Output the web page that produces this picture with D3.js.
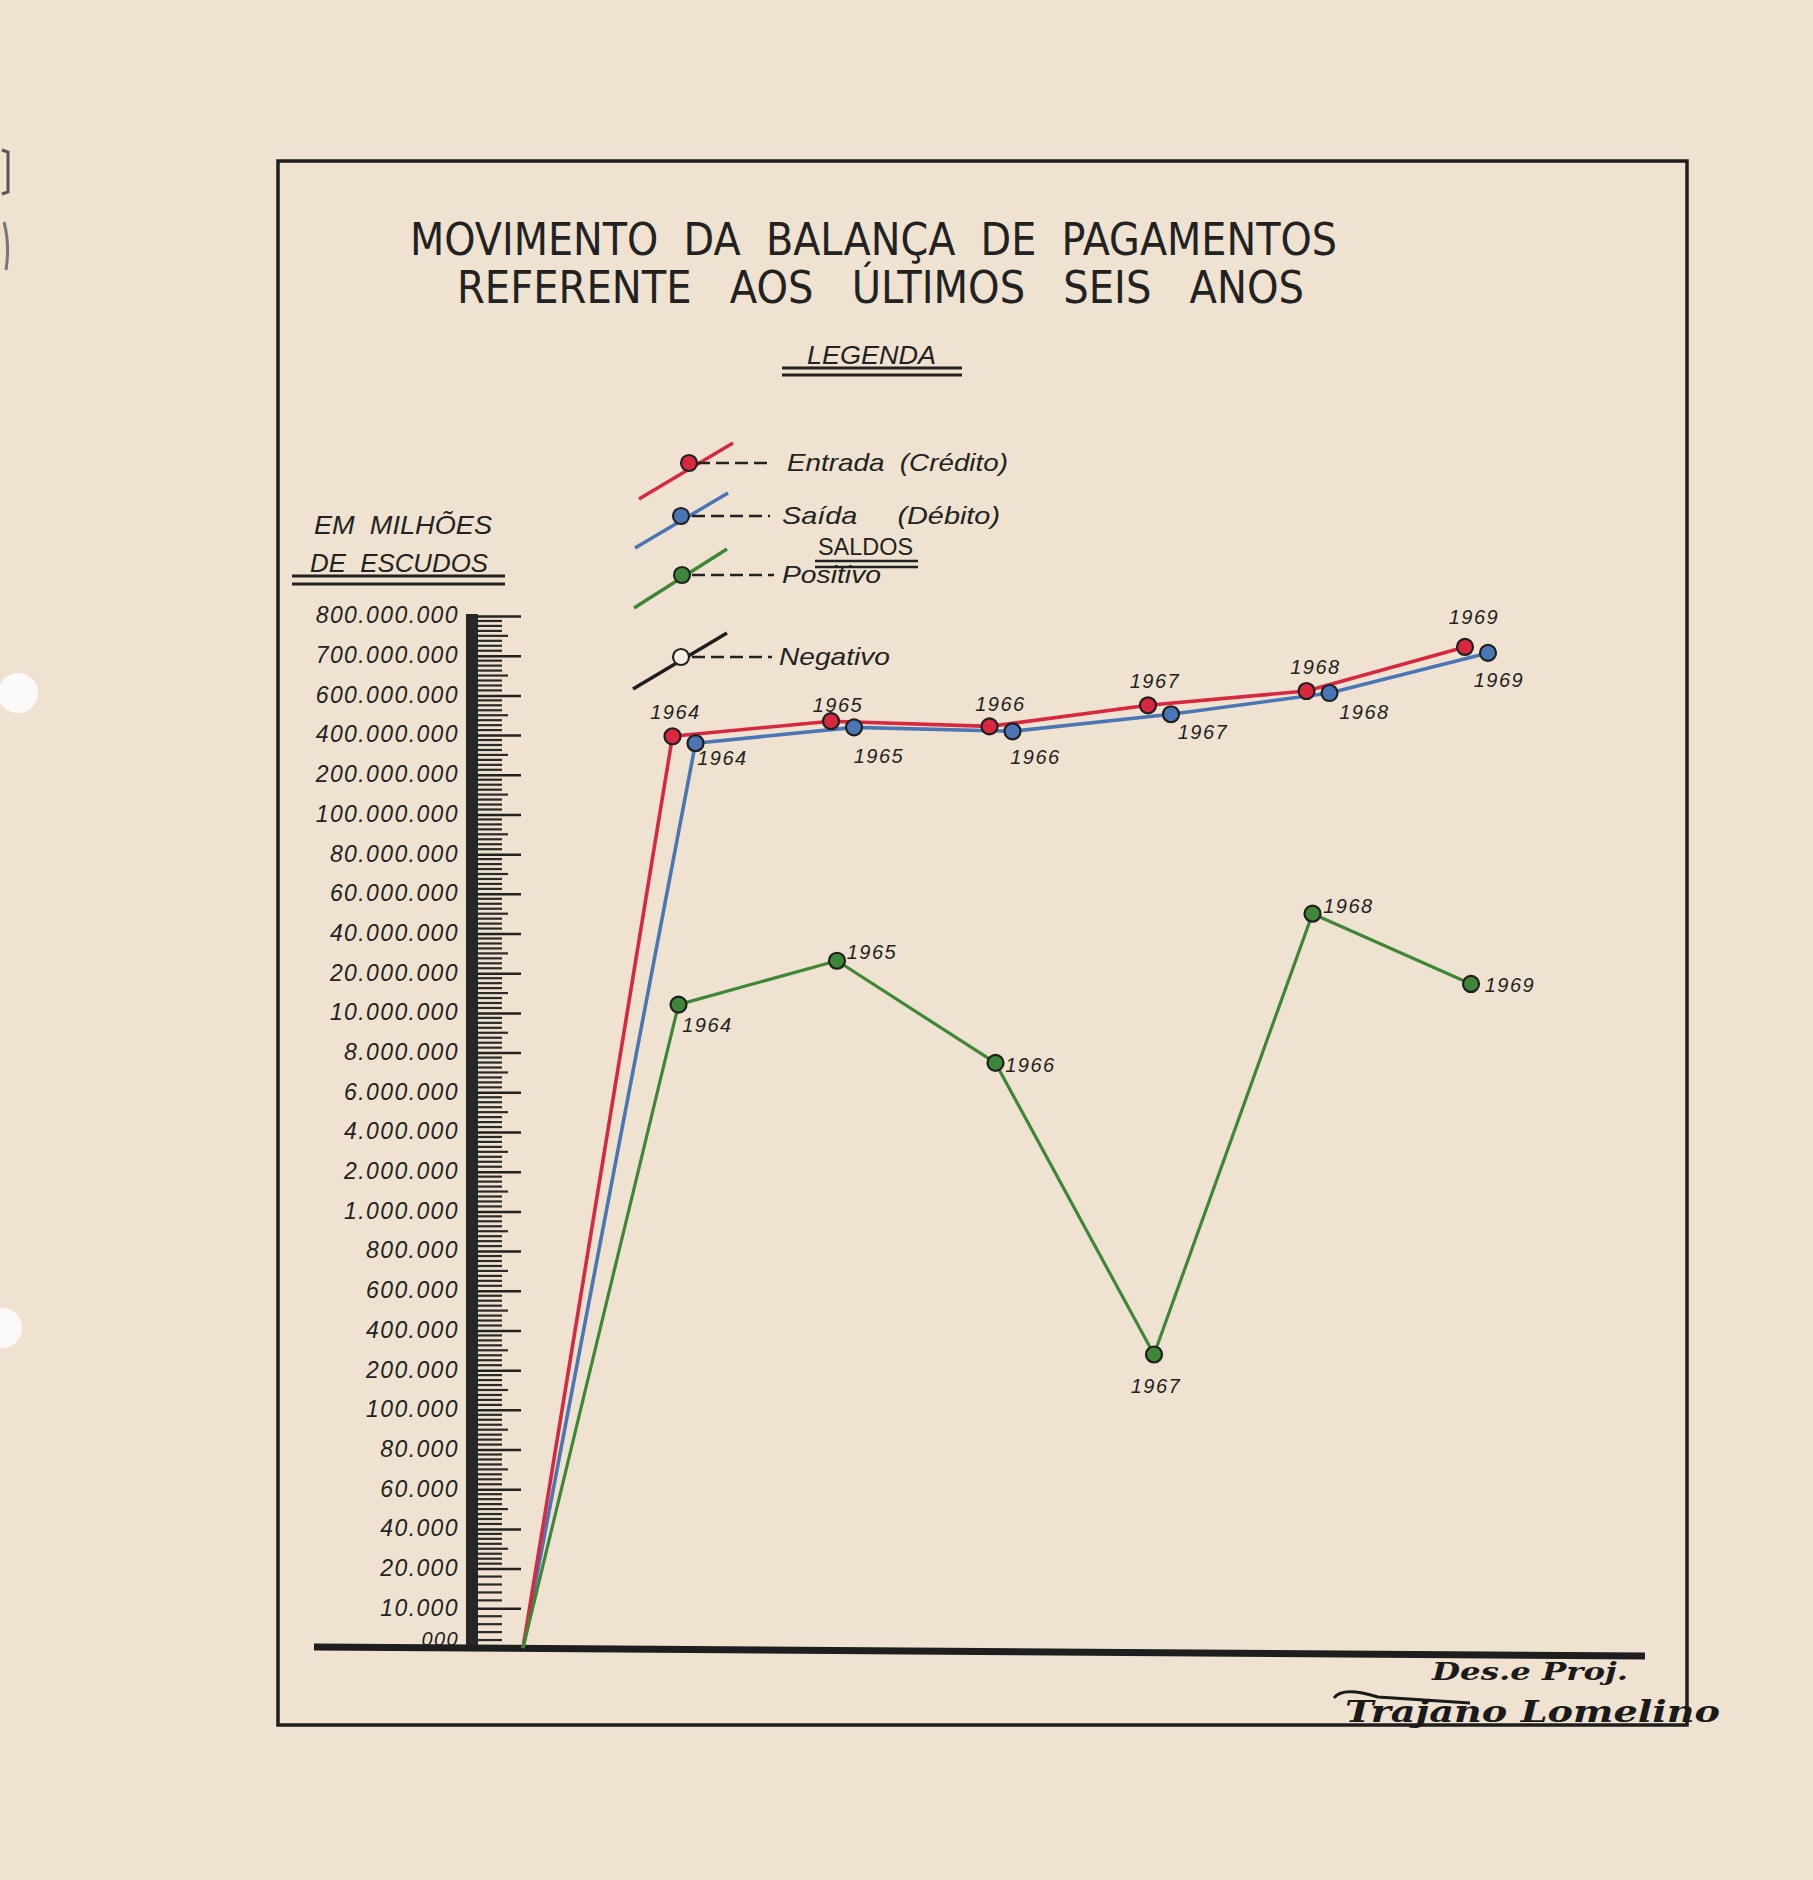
<!DOCTYPE html>
<html>
<head>
<meta charset="utf-8">
<script src="https://cdn.jsdelivr.net/npm/d3@7"></script>
<style>
  html, body { margin: 0; padding: 0; background: #efe2d0; }
  svg { display: block; }
</style>
</head>
<body>
<svg id="chart" width="1813" height="1880"></svg>
<script>
// ---------------- DATA ----------------
const tickLabels = ["800.000.000","700.000.000","600.000.000","400.000.000","200.000.000","100.000.000",
  "80.000.000","60.000.000","40.000.000","20.000.000","10.000.000","8.000.000","6.000.000",
  "4.000.000","2.000.000","1.000.000","800.000","600.000","400.000","200.000","100.000",
  "80.000","60.000","40.000","20.000","10.000","000"];
const tickValues = [800e6,700e6,600e6,400e6,200e6,100e6,80e6,60e6,40e6,20e6,10e6,8e6,6e6,
  4e6,2e6,1e6,800e3,600e3,400e3,200e3,100e3,80e3,60e3,40e3,20e3,10e3,0];
const years = [1964, 1965, 1966, 1967, 1968, 1969];
const entrada = [394e6, 470e6, 444e6, 550e6, 611e6, 722e6];      // Entrada (Crédito)
const saida   = [359e6, 439e6, 419e6, 505e6, 606e6, 707e6];      // Saída (Débito)
const saldoPositivo = [12.1e6, 26.3e6, 7.48e6, 0.279e6, 50e6, 17.3e6]; // Saldos positivos
const titleLines = ["MOVIMENTO  DA  BALANÇA  DE  PAGAMENTOS", "REFERENTE   AOS   ÚLTIMOS   SEIS   ANOS"];

// ---------------- LAYOUT ----------------
const svg = d3.select("#chart");
const INK = "#222";
const RED = "#d8283f", BLUE = "#4a76b6", GREEN = "#3f8738";
const italic = "'Liberation Sans', Arial, sans-serif";

// scales
const yPoint = d3.scalePoint().domain(tickLabels).range([616, 1648]);
const y = d3.scaleLinear()
  .domain(tickValues.slice().reverse())
  .range(tickLabels.map(t => yPoint(t)).reverse());
const x = d3.scaleLinear().domain([1963, 1969]).range([523, 1474]);

// punch holes and edge marks
svg.append("circle").attr("cx", 18).attr("cy", 693).attr("r", 20).attr("fill", "#fbfaf8");
svg.append("circle").attr("cx", 2).attr("cy", 1328).attr("r", 20).attr("fill", "#fbfaf8");
svg.append("path").attr("d", "M2,150 L8,152 L8,192 L2,194").attr("fill", "none").attr("stroke", "#555").attr("stroke-width", 3);
svg.append("path").attr("d", "M4,222 Q10,245 6,270").attr("fill", "none").attr("stroke", "#777").attr("stroke-width", 3);

// frame
svg.append("rect").attr("x", 278).attr("y", 161).attr("width", 1409).attr("height", 1564)
  .attr("fill", "none").attr("stroke", "#1e1e1e").attr("stroke-width", 3.5);

// title
const titleFont = "'Liberation Sans Narrow', 'DejaVu Sans Condensed', 'Liberation Sans', sans-serif";
svg.append("text").text(titleLines[0]).attr("x", 410).attr("y", 255)
  .attr("textLength", 927).attr("lengthAdjust", "spacingAndGlyphs")
  .attr("font-family", titleFont).attr("font-size", 44).attr("fill", INK).attr("font-weight", 300)
  .style("white-space", "pre");
svg.append("text").text(titleLines[1]).attr("x", 457).attr("y", 303)
  .attr("textLength", 847).attr("lengthAdjust", "spacingAndGlyphs")
  .attr("font-family", titleFont).attr("font-size", 44).attr("fill", INK).attr("font-weight", 300)
  .style("white-space", "pre");

// LEGENDA
svg.append("text").text("LEGENDA").attr("x", 807).attr("y", 364)
  .attr("textLength", 129).attr("lengthAdjust", "spacingAndGlyphs")
  .attr("font-family", italic).attr("font-style", "italic").attr("font-size", 25).attr("fill", INK);
[368, 375].forEach(yy => svg.append("line").attr("x1", 782).attr("x2", 962).attr("y1", yy).attr("y2", yy)
  .attr("stroke", INK).attr("stroke-width", 3));

// legend entries
const legend = [
  {label: "Entrada  (Crédito)", color: RED, fill: RED, l: [639,499,733,443], c: [689,463], d: [697,772], tx: 787, tl: 221},
  {label: "Saída     (Débito)", color: BLUE, fill: BLUE, l: [635,548,728,493], c: [681,516], d: [692,770], tx: 782, tl: 218},
  {label: "Positivo", color: GREEN, fill: GREEN, l: [634,608,727,549], c: [682,575], d: [692,774], tx: 782, tl: 99},
  {label: "Negativo", color: "#1e1e1e", fill: "#f6f0e6", l: [633,689,727,633], c: [681,657], d: [692,772], tx: 779, tl: 111}
];
legend.forEach(e => {
  svg.append("line").attr("x1", e.l[0]).attr("y1", e.l[1]).attr("x2", e.l[2]).attr("y2", e.l[3])
    .attr("stroke", e.color).attr("stroke-width", 3.5);
  svg.append("line").attr("x1", e.d[0]).attr("x2", e.d[1]).attr("y1", e.c[1]).attr("y2", e.c[1])
    .attr("stroke", INK).attr("stroke-width", 2.5).attr("stroke-dasharray", "13,6");
  svg.append("circle").attr("cx", e.c[0]).attr("cy", e.c[1]).attr("r", 8)
    .attr("fill", e.fill).attr("stroke", INK).attr("stroke-width", 2.2);
  svg.append("text").text(e.label).attr("x", e.tx).attr("y", e.c[1]).attr("dy", "0.35em")
    .attr("textLength", e.tl).attr("lengthAdjust", "spacingAndGlyphs")
    .attr("font-family", italic).attr("font-style", "italic").attr("font-size", 24).attr("fill", INK)
    .style("white-space", "pre");
});
svg.append("text").text("SALDOS").attr("x", 818).attr("y", 555)
  .attr("textLength", 95).attr("lengthAdjust", "spacingAndGlyphs")
  .attr("font-family", italic).attr("font-size", 24).attr("fill", INK);
[561, 567].forEach(yy => svg.append("line").attr("x1", 815).attr("x2", 918).attr("y1", yy).attr("y2", yy)
  .attr("stroke", INK).attr("stroke-width", 2.5));

// unit label
svg.append("text").text("EM  MILHÕES").attr("x", 314).attr("y", 534)
  .attr("textLength", 178).attr("lengthAdjust", "spacingAndGlyphs")
  .attr("font-family", italic).attr("font-style", "italic").attr("font-size", 26).attr("fill", INK)
  .style("white-space", "pre");
svg.append("text").text("DE  ESCUDOS").attr("x", 310).attr("y", 572)
  .attr("textLength", 178).attr("lengthAdjust", "spacingAndGlyphs")
  .attr("font-family", italic).attr("font-style", "italic").attr("font-size", 26).attr("fill", INK)
  .style("white-space", "pre");
[576, 584].forEach(yy => svg.append("line").attr("x1", 292).attr("x2", 505).attr("y1", yy).attr("y2", yy)
  .attr("stroke", INK).attr("stroke-width", 3));

// ---------------- AXIS ----------------
const barX = 466, barW = 12;
svg.append("rect").attr("x", barX).attr("y", y(800e6) - 2).attr("width", barW).attr("height", y(0) - y(800e6) + 2)
  .attr("fill", "#262626");

// minor comb ticks
const minor = [];
for (let i = 0; i < tickValues.length - 1; i++) {
  const v0 = tickValues[i], v1 = tickValues[i + 1];
  const n = i >= 24 ? 5 : 8;
  for (let k = 1; k < n; k++) minor.push({v: v0 + (v1 - v0) * k / n, mid: (n === 8 && k === 4)});
}
svg.append("g").selectAll("line").data(minor).join("line")
  .attr("x1", barX + barW).attr("x2", d => d.mid ? 508 : 502)
  .attr("y1", d => y(d.v)).attr("y2", d => y(d.v))
  .attr("stroke", "#2a2a2a").attr("stroke-width", 2.2);

// major ticks via d3 axis
const majorAxis = svg.append("g").attr("transform", `translate(${barX + barW},0)`)
  .call(d3.axisRight(y).tickValues(tickValues.slice(0, -1)).tickSize(43).tickFormat(""));
majorAxis.select(".domain").remove();
majorAxis.selectAll("line").attr("stroke", "#222").attr("stroke-width", 2.5);

// tick labels via d3 axis
const labelAxis = svg.append("g").attr("transform", "translate(459,0)")
  .call(d3.axisLeft(y).tickValues(tickValues).tickSize(0).tickPadding(0)
    .tickFormat((v, i) => tickLabels[i]));
labelAxis.select(".domain").remove();
labelAxis.selectAll("text")
  .attr("font-family", italic).attr("font-style", "italic").attr("font-size", 23)
  .attr("letter-spacing", 1.4).attr("fill", INK).attr("dy", "0.3em");
labelAxis.selectAll("text").filter((v) => v === 0)
  .attr("font-size", 20).attr("dy", "-0.15em");

// baseline
svg.append("line").attr("x1", 314).attr("y1", y(0) - 1).attr("x2", 1645).attr("y2", y(0) + 8)
  .attr("stroke", "#1e1e1e").attr("stroke-width", 7);

// ---------------- SERIES ----------------
const series = [
  {vals: saida, color: BLUE, dx: 14, w: 3.6,
   off: [[27,15],[25,29],[23,26],[32,18],[35,19],[11,27]]},
  {vals: entrada, color: RED, dx: -9, w: 3.6,
   off: [[3,-24],[7,-16],[11,-22],[7,-24],[9,-24],[9,-30]]},
  {vals: saldoPositivo, color: GREEN, dx: -3, w: 3.2,
   off: [[29,20],[35,-9],[35,2],[2,32],[36,-8],[39,1]]}
];
const line = d3.line().x(d => d[0]).y(d => d[1]);
const origin = [x(1963), y(0)];

series.forEach(s => {
  const pts = years.map((yr, i) => [x(yr) + s.dx, y(s.vals[i])]);
  svg.append("path").attr("d", line([origin].concat(pts)))
    .attr("fill", "none").attr("stroke", s.color).attr("stroke-width", s.w)
    .attr("stroke-linejoin", "round");
});
series.forEach(s => {
  const pts = years.map((yr, i) => [x(yr) + s.dx, y(s.vals[i])]);
  svg.append("g").selectAll("circle").data(pts).join("circle")
    .attr("cx", d => d[0]).attr("cy", d => d[1]).attr("r", 8)
    .attr("fill", s.color).attr("stroke", "#1f1f1f").attr("stroke-width", 2.2);
  svg.append("g").selectAll("text").data(pts).join("text")
    .text((d, i) => years[i])
    .attr("x", (d, i) => d[0] + s.off[i][0]).attr("y", (d, i) => d[1] + s.off[i][1])
    .attr("text-anchor", "middle").attr("dy", "0.35em")
    .attr("font-family", italic).attr("font-style", "italic").attr("font-size", 20)
    .attr("letter-spacing", 1.5).attr("fill", INK);
});

// ---------------- SIGNATURE ----------------
svg.append("text").text("Des.e Proj.").attr("x", 1432).attr("y", 1680)
  .attr("textLength", 196).attr("lengthAdjust", "spacingAndGlyphs")
  .attr("font-family", "'DejaVu Serif', serif").attr("font-style", "italic").attr("font-weight", "bold")
  .attr("font-size", 24).attr("fill", "#1a1a1a");
svg.append("text").text("Trajano Lomelino").attr("x", 1345).attr("y", 1722)
  .attr("textLength", 375).attr("lengthAdjust", "spacingAndGlyphs")
  .attr("font-family", "'DejaVu Serif', serif").attr("font-style", "italic").attr("font-weight", "bold")
  .attr("font-size", 30).attr("fill", "#1a1a1a");
svg.append("path").attr("d", "M1334,1698 Q1342,1686 1378,1697 L1470,1703")
  .attr("fill", "none").attr("stroke", "#1a1a1a").attr("stroke-width", 3);
</script>
</body>
</html>
